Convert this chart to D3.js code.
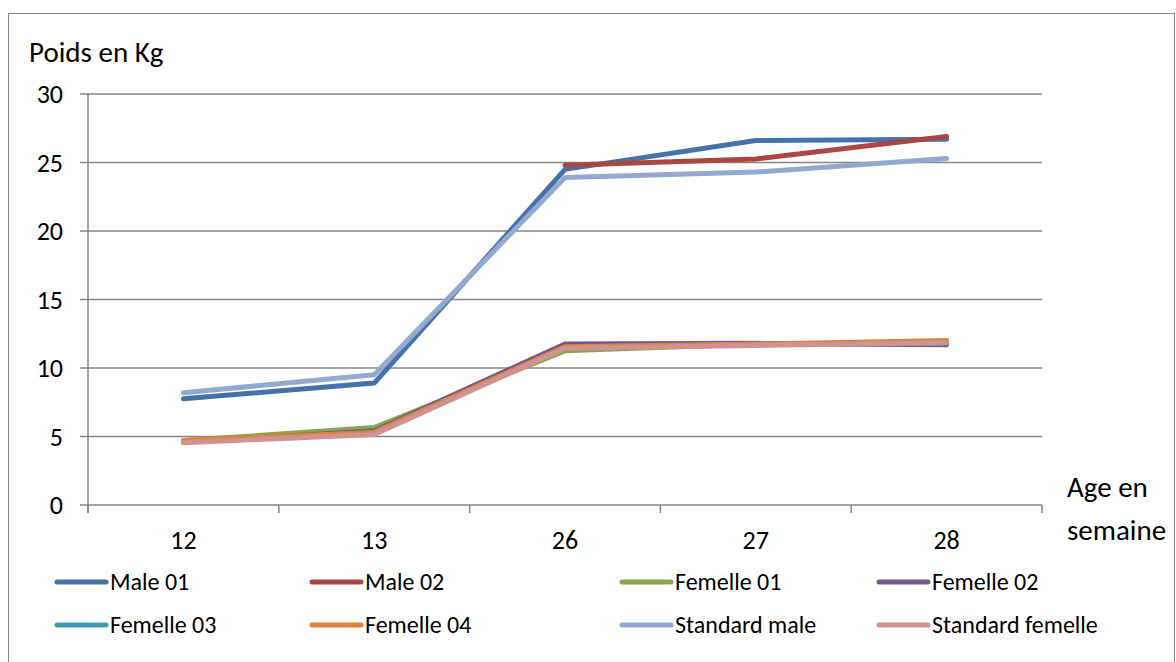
<!DOCTYPE html>
<html><head><meta charset="utf-8">
<script src="https://cdn.jsdelivr.net/npm/d3@7"></script>
<style>body{margin:0;background:#fff}svg{display:block}text{font-family:Calibri,Carlito,"Open Sans","Noto Sans",sans-serif;fill:#000}</style>
</head><body><svg id="c" width="1176" height="662"></svg>
<script>
const categories = ["12","13","26","27","28"];
const yTicks = [0,5,10,15,20,25,30];
const seriesNames = ["Male 01","Male 02","Femelle 01","Femelle 02","Femelle 03","Femelle 04","Standard male","Standard femelle"];
const seriesColors = ["#4572A7","#AA4643","#89A54E","#71588F","#4198AF","#DB843D","#93A9CF","#D19392"];
const male01 = [7.75, 8.9, 24.5, 26.6, 26.7];
const male02 = [null, null, 24.8, 25.25, 26.9];
const femelle01 = [4.7, 5.65, 11.25, 11.75, 11.75];
const femelle02 = [4.6, 5.4, 11.75, 11.8, 11.7];
const femelle03 = [4.6, 5.3, 11.5, 11.7, 11.8];
const femelle04 = [4.7, 5.3, 11.55, 11.75, 12.0];
const standardMale = [8.2, 9.5, 23.9, 24.3, 25.3];
const standardFemelle = [4.55, 5.15, 11.45, 11.65, 11.85];
const seriesValues = [male01, male02, femelle01, femelle02, femelle03, femelle04, standardMale, standardFemelle];

const svg = d3.select("#c");
svg.append("rect").attr("x",8.5).attr("y",13.5).attr("width",1166).attr("height",660)
  .attr("fill","none").attr("stroke","#868686").attr("stroke-width",1);

const L=88, R=1042, T=94, B=505;
const x = d3.scaleBand().domain(categories).range([L,R]);
const y = d3.scaleLinear().domain([0,30]).range([B,T]);

// gridlines
svg.append("g").selectAll("line").data(yTicks).join("line")
  .attr("x1",L-8).attr("x2",R).attr("y1",d=>y(d)).attr("y2",d=>y(d))
  .attr("stroke","#868686").attr("stroke-width",1.5);
// y axis line
svg.append("line").attr("x1",L).attr("x2",L).attr("y1",T).attr("y2",B+8).attr("stroke","#868686").attr("stroke-width",1.5);
// x ticks at band boundaries
const bounds = categories.map(c=>x(c)).concat([R]);
svg.append("g").selectAll("line").data(bounds).join("line")
  .attr("x1",d=>d).attr("x2",d=>d).attr("y1",B).attr("y2",B+8)
  .attr("stroke","#868686").attr("stroke-width",1.5);
// y labels
svg.append("g").selectAll("text").data(yTicks).join("text")
  .attr("x",63).attr("y",d=>y(d)+9).attr("text-anchor","end").attr("font-size",26).text(d=>d);
// x labels
svg.append("g").selectAll("text").data(categories).join("text")
  .attr("x",d=>x(d)+x.bandwidth()/2).attr("y",549).attr("text-anchor","middle").attr("font-size",26).text(d=>d);
// axis titles
svg.append("text").attr("x",29).attr("y",62).attr("font-size",29).text("Poids en Kg");
svg.append("text").attr("x",1067).attr("y",497).attr("font-size",29).text("Age en");
svg.append("text").attr("x",1067).attr("y",540).attr("font-size",29).text("semaine");

// lines
const line = d3.line().defined(d=>d.v!=null)
  .x(d=>x(d.c)+x.bandwidth()/2).y(d=>y(d.v));
seriesValues.forEach((vals,i)=>{
  svg.append("path").datum(vals.map((v,j)=>({c:categories[j],v})))
    .attr("d",line).attr("fill","none").attr("stroke",seriesColors[i])
    .attr("stroke-width",5).attr("stroke-linecap","round").attr("stroke-linejoin","round");
});

// legend
const legX=[57,312,622,879], legY=[582,625];
seriesNames.forEach((n,i)=>{
  const col=i%4, row=Math.floor(i/4);
  const g=svg.append("g").attr("transform",`translate(${legX[col]},${legY[row]})`);
  g.append("line").attr("x1",0).attr("x2",49).attr("y1",0).attr("y2",0)
    .attr("stroke",seriesColors[i]).attr("stroke-width",5).attr("stroke-linecap","round");
  g.append("text").attr("x",53).attr("y",8).attr("font-size",24).text(n);
});
</script></body></html>
